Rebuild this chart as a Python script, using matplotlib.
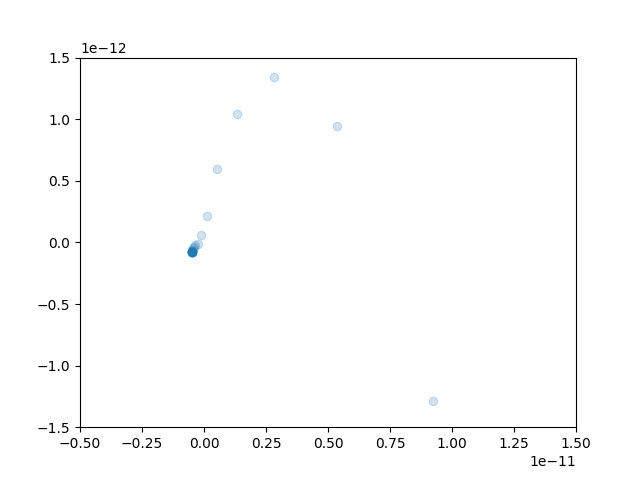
import matplotlib
matplotlib.use("Agg")
import matplotlib.pyplot as plt
import numpy as np

x_vals = [0.9247, 0.5376, 0.2835, 0.134, 0.0537, 0.0134, -0.0121, -0.023, -0.036,
          -0.040, -0.0444, -0.0465, -0.0475, -0.048, -0.0484, -0.0486, -0.0487,
          -0.0488, -0.0488, -0.0489, -0.0489, -0.0489, -0.0489, -0.0489, -0.0489]
y_vals = [-1.289, 0.945, 1.343, 1.042, 0.598, 0.2154, 0.061, -0.015, -0.02,
          -0.0366, -0.049, -0.060, -0.067, -0.071, -0.074, -0.075, -0.076,
          -0.076, -0.077, -0.077, -0.077, -0.077, -0.077, -0.077, -0.077]

x = np.array(x_vals) * 1e-11
y = np.array(y_vals) * 1e-12

fig, ax = plt.subplots(figsize=(6.4, 4.8), dpi=100)
ax.scatter(x, y, alpha=0.2)
ax.set_xlim(-0.5e-11, 1.5e-11)
ax.set_ylim(-1.5e-12, 1.5e-12)
fig.savefig("out.png")
